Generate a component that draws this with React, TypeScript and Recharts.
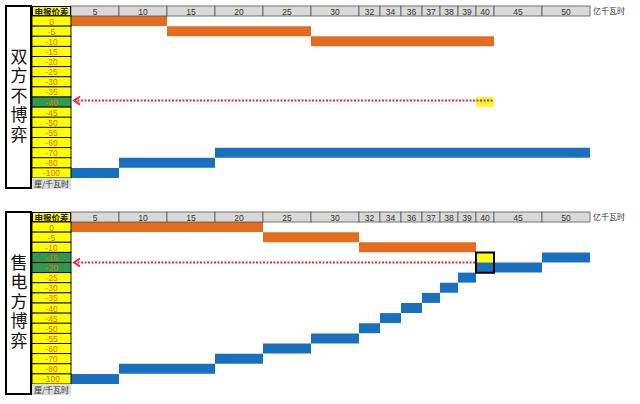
import React from 'react';
import { ComposedChart, Bar, XAxis, YAxis, ReferenceArea, ReferenceLine } from 'recharts';

// 电量档位（亿千瓦时）与申报价差（厘/千瓦时）
const COLUMN_LABELS = ['5', '10', '15', '20', '25', '30', '32', '34', '36', '37', '38', '39', '40', '45', '50'];
const PRICE_ROWS = ['0', '-5', '-10', '-15', '-20', '-25', '-30', '-35', '-40', '-45', '-50', '-55', '-60', '-70', '-80', '-100'];

// [申报价差, 起始档, 结束档]
type Segment = [string, string, string];

const SELL_NO_GAME: Segment[] = [['0', '5', '10'], ['-5', '15', '25'], ['-10', '30', '40']];
const BUY_NO_GAME: Segment[] = [['-100', '5', '5'], ['-80', '10', '15'], ['-70', '20', '50']];

const SELL_GAME: Segment[] = [['0', '5', '20'], ['-5', '25', '30'], ['-10', '32', '39']];
const BUY_GAME: Segment[] = [
  ['-100', '5', '5'], ['-80', '10', '15'], ['-70', '20', '20'], ['-60', '25', '25'],
  ['-55', '30', '30'], ['-50', '32', '32'], ['-45', '34', '34'], ['-40', '36', '36'],
  ['-35', '37', '37'], ['-30', '38', '38'], ['-25', '39', '39'], ['-20', '40', '45'],
  ['-15', '50', '50'],
];

const CLEAR_ROWS_NO_GAME = ['-40'];
const CLEAR_ROWS_GAME = ['-15', '-20'];

// layout
const COL_W = [48, 48, 48, 48, 48, 48, 21, 21, 21, 18, 18, 18, 18, 48, 48];
const W = 640;
const H = 192;
const M = { top: 6, right: 50, bottom: 14, left: 32 };
const LABEL_W = 39;
const HEADER_H = 10;
const PLOT_H = H - M.top - HEADER_H - M.bottom;
const ROW_H = PLOT_H / PRICE_ROWS.length;

const ORANGE = '#e36c1e';
const BLUE = '#1a6fbf';
const YELLOW = '#ffff00';
const GREEN = '#2f9a4f';
const RED = '#e8283c';
const CJK = '"Noto Sans CJK SC", "Noto Sans", sans-serif';

const colStart = COL_W.map((_, i) => COL_W.slice(0, i).reduce((a, b) => a + b, 0));
const TOTAL = COL_W.reduce((a, b) => a + b, 0);
const colCenters = colStart.map((s, i) => s + COL_W[i] / 2);
const startOf = (c: string) => colStart[COLUMN_LABELS.indexOf(c)];
const endOf = (c: string) => {
  const i = COLUMN_LABELS.indexOf(c);
  return colStart[i] + COL_W[i];
};

function buildRows(sell: Segment[], buy: Segment[]) {
  const toRange = (segs: Segment[], p: string) => {
    const s = segs.find((d) => d[0] === p);
    return s ? [startOf(s[1]), endOf(s[2])] : null;
  };
  return PRICE_ROWS.map((p) => ({ price: p, sell: toRange(sell, p), buy: toRange(buy, p) }));
}

const HeaderTick = (props: any) => {
  const { x, payload } = props;
  let i = colCenters.findIndex((c) => Math.abs(c - payload.value) < 0.01);
  if (i < 0) i = props.index;
  const w = COL_W[i];
  return (
    <g>
      <rect x={x - w / 2} y={M.top} width={w} height={HEADER_H} fill="#d9d9d9" stroke="#555" strokeWidth={0.8} />
      <text
        x={x}
        y={M.top + HEADER_H / 2 + 0.5}
        textAnchor="middle"
        dominantBaseline="central"
        fontSize={8.5}
        fontFamily="Liberation Sans, Arial, sans-serif"
        fill="#333"
      >
        {COLUMN_LABELS[i]}
      </text>
    </g>
  );
};

const makePriceTick = (greenRows: string[]) => (props: any) => {
  const { y, payload } = props;
  const green = greenRows.includes(payload.value);
  return (
    <g>
      <rect
        x={M.left}
        y={y - ROW_H / 2}
        width={LABEL_W}
        height={ROW_H}
        fill={green ? GREEN : YELLOW}
        stroke="#000"
        strokeWidth={0.9}
      />
      <text
        x={M.left + LABEL_W / 2}
        y={y + 0.5}
        textAnchor="middle"
        dominantBaseline="central"
        fontSize={8.5}
        fontFamily="Liberation Sans, Arial, sans-serif"
        fill="#e0700f"
      >
        {payload.value}
      </text>
    </g>
  );
};

const makeArrow = (dy: number) => (p: any) => {
  const { x1, x2, y1 } = p;
  const left = Math.min(x1, x2);
  const right = Math.max(x1, x2);
  const y = y1 + dy;
  return (
    <g>
      <line x1={left + 1} y1={y} x2={right} y2={y} stroke={RED} strokeWidth={2} strokeDasharray="2 1.5" />
      <polyline
        points={`${left + 7},${y - 4} ${left + 1},${y} ${left + 7},${y + 4}`}
        fill="none"
        stroke={RED}
        strokeWidth={2}
      />
    </g>
  );
};

interface PanelProps {
  top: number;
  title: string;
  sell: Segment[];
  buy: Segment[];
  greenRows: string[];
  clearRow: string;
  clearCol: string;
  game: boolean;
}

const Panel: React.FC<PanelProps> = ({ top, title, sell, buy, greenRows, clearRow, clearCol, game }) => {
  const data = buildRows(sell, buy);
  const arrowEnd = game ? startOf(clearCol) : endOf(clearCol);
  const arrowDy = game ? ROW_H / 2 : -1.5;
  return (
    <div style={{ position: 'absolute', left: 0, top, width: W, height: H }}>
      <ComposedChart width={W} height={H} data={data} layout="vertical" margin={M} barCategoryGap={0} barGap={0}>
        <XAxis
          type="number"
          orientation="top"
          domain={[0, TOTAL]}
          ticks={colCenters}
          interval={0}
          height={HEADER_H}
          axisLine={false}
          tickLine={false}
          tick={HeaderTick}
        />
        <YAxis
          yAxisId="sell"
          type="category"
          dataKey="price"
          width={LABEL_W}
          axisLine={false}
          tickLine={false}
          interval={0}
          tick={makePriceTick(greenRows)}
        />
        <YAxis yAxisId="buy" type="category" dataKey="price" hide />
        <Bar yAxisId="sell" dataKey="sell" fill={ORANGE} isAnimationActive={false} />
        <Bar yAxisId="buy" dataKey="buy" fill={BLUE} isAnimationActive={false} />
        <ReferenceArea
          yAxisId="sell"
          x1={startOf(clearCol)}
          x2={endOf(clearCol)}
          y1={clearRow}
          y2={clearRow}
          fill={game ? YELLOW : '#fff23a'}
          fillOpacity={1}
          strokeOpacity={0}
        />
        <ReferenceLine
          yAxisId="sell"
          segment={[{ x: 2, y: clearRow }, { x: arrowEnd, y: clearRow }]}
          shape={makeArrow(arrowDy)}
        />
        {game && (
          <ReferenceArea
            yAxisId="sell"
            x1={startOf(clearCol)}
            x2={endOf(clearCol)}
            y1={greenRows[0]}
            y2={greenRows[greenRows.length - 1]}
            fill="none"
            stroke="#000"
            strokeWidth={2}
            zIndex={600}
          />
        )}
      </ComposedChart>

      <div
        style={{
          position: 'absolute', left: 5, top: M.top - 1, width: 27, height: H - M.top - 2,
          border: '2px solid #000', boxSizing: 'border-box', background: '#fff',
          display: 'flex', alignItems: 'center', justifyContent: 'center',
        }}
      >
        <span
          style={{
            writingMode: 'vertical-rl', fontFamily: CJK, fontSize: 17, letterSpacing: 2.5,
            lineHeight: '20px', color: '#111',
          }}
        >
          {title}
        </span>
      </div>
      <div
        style={{
          position: 'absolute', left: M.left, top: M.top, width: LABEL_W, height: HEADER_H,
          background: YELLOW, border: '1px solid #000', boxSizing: 'border-box',
          fontFamily: CJK, fontSize: 8.5, fontWeight: 700, lineHeight: '8px', textAlign: 'center', color: '#222',
        }}
      >
        申报价差
      </div>
      <div
        style={{
          position: 'absolute', left: M.left, top: H - M.bottom, width: LABEL_W, height: 11,
          background: '#dcdcdc', fontFamily: CJK, fontSize: 8, lineHeight: '11px', textAlign: 'center', color: '#333',
        }}
      >
        厘/千瓦时
      </div>
      <div
        style={{
          position: 'absolute', left: W - M.right + 3, top: M.top, height: HEADER_H,
          fontFamily: CJK, fontSize: 8, lineHeight: '10px', color: '#333', whiteSpace: 'nowrap',
        }}
      >
        亿千瓦时
      </div>
    </div>
  );
};

export default function App() {
  return (
    <div style={{ position: 'fixed', left: 0, top: 0, width: W, height: 404, background: '#fff', overflow: 'hidden' }}>
      <Panel
        top={0}
        title="双方不博弈"
        sell={SELL_NO_GAME}
        buy={BUY_NO_GAME}
        greenRows={CLEAR_ROWS_NO_GAME}
        clearRow="-40"
        clearCol="40"
        game={false}
      />
      <Panel
        top={206}
        title="售电方博弈"
        sell={SELL_GAME}
        buy={BUY_GAME}
        greenRows={CLEAR_ROWS_GAME}
        clearRow="-15"
        clearCol="40"
        game
      />
    </div>
  );
}
